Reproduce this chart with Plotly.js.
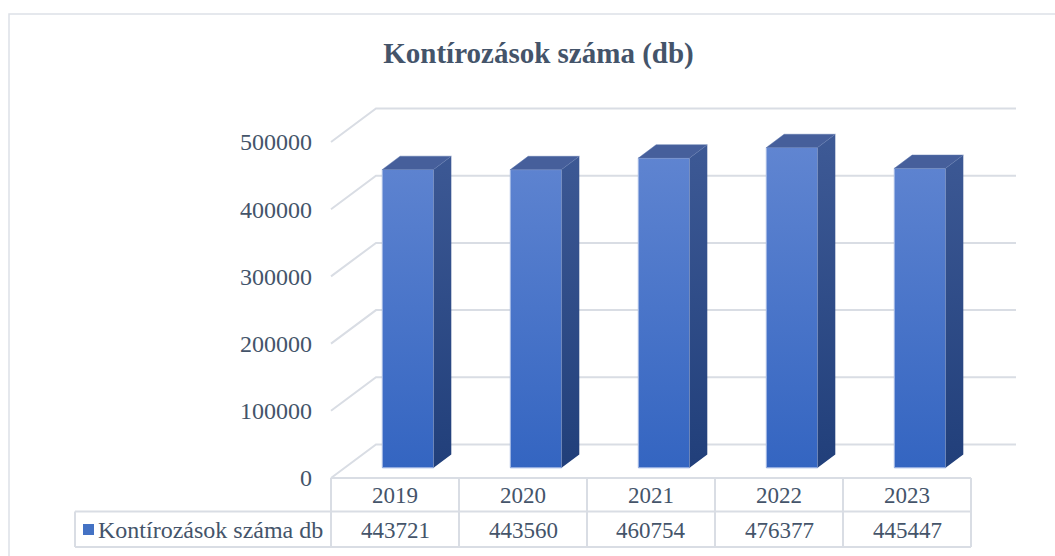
<!DOCTYPE html>
<html>
<head>
<meta charset="utf-8">
<script src="https://cdn.plot.ly/plotly-3.0.1.min.js"></script>
<style>html,body{margin:0;padding:0;background:#fff;}#chart{width:1055px;height:556px;}</style>
</head>
<body>
<div id="chart"></div>
<script>
// ---- data ----
const chartTitle = 'Kontírozások száma (db)';
const seriesName = 'Kontírozások száma db';
const years = ['2019', '2020', '2021', '2022', '2023'];
const values = [443721, 443560, 460754, 476377, 445447];
const yTicks = [0, 100000, 200000, 300000, 400000, 500000];

// ---- geometry (pseudo-3D projection) ----
const W = 1055, H = 556;
const PX_X = 1 / 128;          // category units per pixel
const PX_Y = 1488;             // value units per pixel
const firstCenterPx = 408, zeroPx = 467.7;
const xr0 = -firstCenterPx * PX_X, xr1 = xr0 + W * PX_X;
const yr1 = zeroPx * PX_Y, yr0 = yr1 - H * PX_Y;
// plane offsets relative to the bar-front plane
const front = {dx: -13 * PX_X, dy: -10.3 * PX_Y};
const back = {dx: 32 * PX_X, dy: 23.2 * PX_Y};
const depth = {dx: 17.7 * PX_X, dy: 13.3 * PX_Y};
const halfW = 0.2;
const n = years.length;
const idx = years.map((_, i) => i);

const TXT = '#44546a';
const GRID = '#d9dde4';
const FONT = '"Liberation Serif", "Times New Roman", serif';
const py = p => 1 - p / H;   // pixel row -> paper
const px = p => p / W;       // pixel col -> paper

// gridlines on side + back walls
const shapes = [];
yTicks.forEach(t => {
  const x0 = -0.5 + front.dx, y0 = t + front.dy;
  const x1 = -0.5 + back.dx, y1 = t + back.dy;
  const x2 = (n - 0.5) + back.dx;
  shapes.push({type: 'path', xref: 'x', yref: 'y', layer: 'below',
    path: `M${x0},${y0} L${x1},${y1} L${x2},${y1}`,
    line: {color: GRID, width: 2}});
});

// chart border
shapes.push({type: 'path', xref: 'paper', yref: 'paper', layer: 'below',
  path: `M${px(9)},0 L${px(9)},${py(14)} L1,${py(14)}`, line: {color: '#dde1e7', width: 1.5}});

// data table
const tTop = 478, tMid = 511.5, tBot = 547, legLeft = 75;
const colEdge = i => i - 0.5 + front.dx;
shapes.push({type: 'line', xref: 'x', yref: 'paper', x0: colEdge(0), x1: colEdge(n), y0: py(tTop), y1: py(tTop), line: {color: GRID, width: 2}});
[tMid, tBot].forEach(yy => {
  shapes.push({type: 'line', xref: 'paper', yref: 'paper', x0: px(legLeft), x1: px((colEdge(n) - xr0) / PX_X), y0: py(yy), y1: py(yy), line: {color: GRID, width: 2}});
});
for (let i = 0; i <= n; i++) {
  shapes.push({type: 'line', xref: 'x', yref: 'paper', x0: colEdge(i), x1: colEdge(i), y0: py(tTop), y1: py(tBot), line: {color: GRID, width: 2}});
}
shapes.push({type: 'line', xref: 'paper', yref: 'paper', x0: px(legLeft), x1: px(legLeft), y0: py(tMid), y1: py(tBot), line: {color: GRID, width: 2}});
// legend key
shapes.push({type: 'rect', xref: 'paper', yref: 'paper', x0: px(83), x1: px(94), y0: py(535), y1: py(524),
  fillcolor: '#4472c4', line: {width: 0}});

const annotations = [];
years.forEach((yv, i) => {
  annotations.push({x: i + front.dx, xref: 'x', y: py((tTop + tMid) / 2 + 1), yref: 'paper', text: yv, showarrow: false,
    font: {family: FONT, size: 23, color: TXT}, xanchor: 'center', yanchor: 'middle'});
  annotations.push({x: i + front.dx, xref: 'x', y: py((tMid + tBot) / 2 + 1), yref: 'paper', text: String(values[i]), showarrow: false,
    font: {family: FONT, size: 23, color: TXT}, xanchor: 'center', yanchor: 'middle'});
});
annotations.push({x: px(96), xref: 'paper', y: py((tMid + tBot) / 2 + 1), yref: 'paper', text: seriesName, showarrow: false,
  font: {family: FONT, size: 24, color: TXT}, xanchor: 'left', yanchor: 'middle'});

// bar faces
const frontX = [], frontY = [], sideX = [], sideY = [], topX = [], topY = [];
idx.forEach(i => {
  const v = values[i];
  const r = i + halfW, l = i - halfW;
  frontX.push(l, r, r, l, l, null);
  frontY.push(0, 0, v, v, 0, null);
  sideX.push(r, r + depth.dx, r + depth.dx, r, r, null);
  sideY.push(0, depth.dy, v + depth.dy, v, 0, null);
  topX.push(l, l + depth.dx, r + depth.dx, r, l, null);
  topY.push(v, v + depth.dy, v + depth.dy, v, v, null);
});

const traces = [
  {type: 'bar', x: idx, y: values, width: 2 * halfW, name: seriesName, showlegend: false,
   marker: {color: '#4a77ca', line: {color: '#9fb5e2', width: 1}}, hoverinfo: 'skip'},
  // front-face shading (same geometry as the bars)
  {type: 'scatter', mode: 'lines', x: frontX, y: frontY, fill: 'toself', showlegend: false, hoverinfo: 'skip',
   line: {width: 1, color: '#a3b8e4'},
   fillgradient: {type: 'vertical', colorscale: [[0, '#3465c1'], [1, '#6085d1']]}},
  {type: 'scatter', mode: 'lines', x: sideX, y: sideY, fill: 'toself', showlegend: false, hoverinfo: 'skip',
   line: {width: 0, color: '#2e4b88'},
   fillgradient: {type: 'vertical', colorscale: [[0, '#213f7a'], [1, '#3e5a96']]}},
  {type: 'scatter', mode: 'lines', x: topX, y: topY, fill: 'toself', showlegend: false, hoverinfo: 'skip',
   line: {width: 0.5, color: '#5a74ad'}, fillcolor: '#465f9b'}
];

const layout = {
  width: W, height: H,
  margin: {l: 0, r: 0, t: 0, b: 0, pad: 0},
  paper_bgcolor: '#ffffff', plot_bgcolor: 'rgba(0,0,0,0)',
  showlegend: false,
  title: {text: '<b>' + chartTitle + '</b>', x: px(538.5), xanchor: 'center', y: py(53), yanchor: 'middle',
    font: {family: FONT, size: 29, color: TXT}},
  xaxis: {range: [xr0, xr1], visible: false, fixedrange: true},
  yaxis: {range: [yr0, yr1], visible: false, fixedrange: true},
  yaxis2: {overlaying: 'y', anchor: 'free', position: px(330), side: 'left',
    range: [yr0 - front.dy, yr1 - front.dy], tickvals: yTicks, ticktext: yTicks.map(String),
    showgrid: false, zeroline: false, showline: false, ticks: '', ticklabelstandoff: 18,
    tickfont: {family: FONT, size: 24, color: TXT}, fixedrange: true},
  shapes: shapes, annotations: annotations
};
// dummy trace to activate yaxis2
traces.push({type: 'scatter', x: [null], y: [null], yaxis: 'y2', showlegend: false, hoverinfo: 'skip'});

Plotly.newPlot('chart', traces, layout, {displayModeBar: false, staticPlot: true});
</script>
</body>
</html>
